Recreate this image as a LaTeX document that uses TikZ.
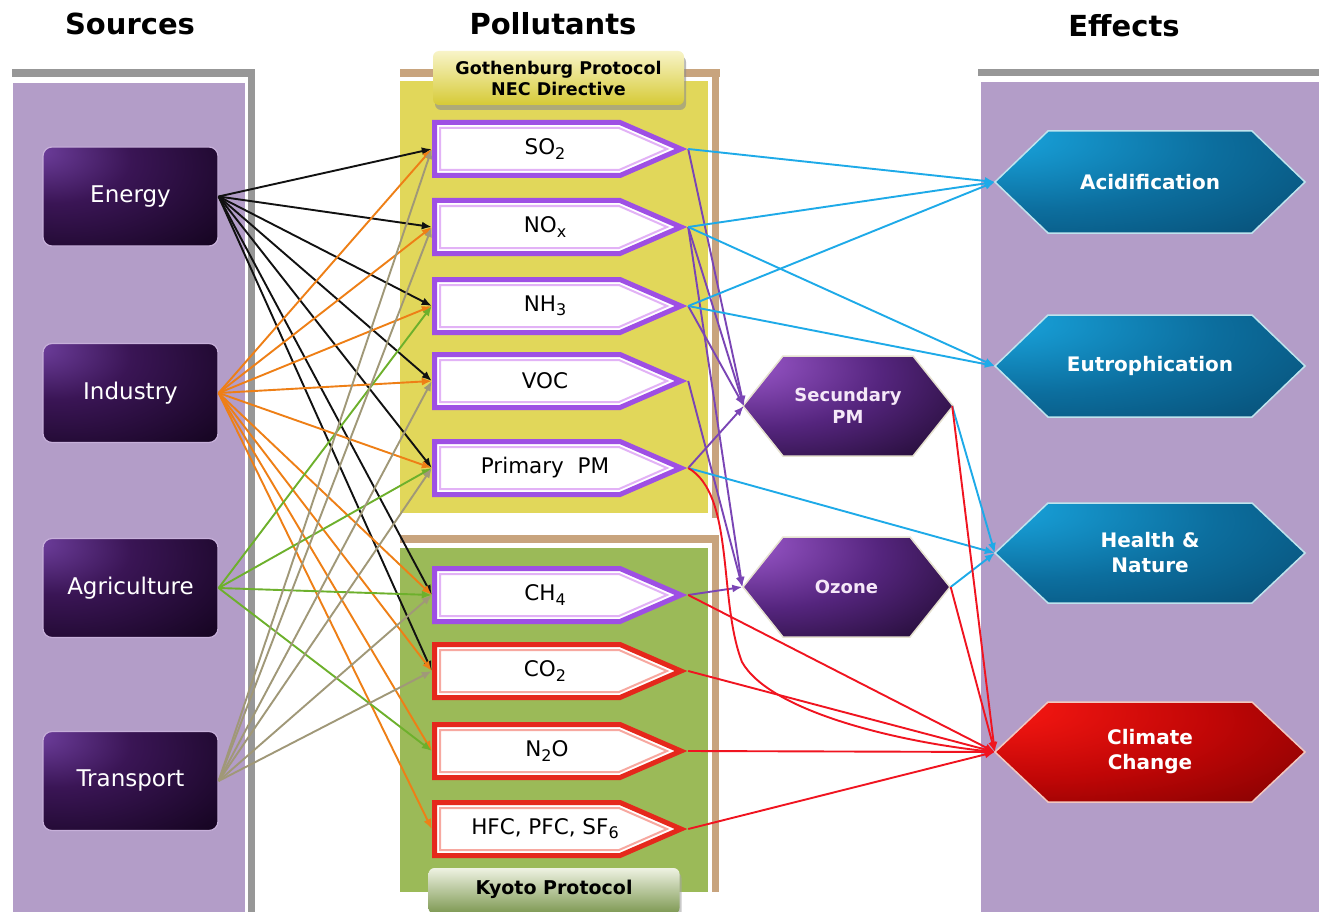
\documentclass[tikz,border=0pt]{standalone}
\usepackage{fontspec}
\setmainfont{DejaVu Sans}
\usetikzlibrary{arrows.meta,shadows}
\definecolor{pgray}{HTML}{979797}
\definecolor{ppurple}{HTML}{B39DC8}
\definecolor{ptan}{HTML}{C8A47E}
\definecolor{pyellow}{HTML}{E1D75A}
\definecolor{pgreen}{HTML}{9BBA58}
\definecolor{polpurple}{HTML}{9E4FE4}
\definecolor{pollav}{HTML}{E2B2F6}
\definecolor{polred}{HTML}{E5281C}
\definecolor{polpink}{HTML}{F7A8A0}
\definecolor{cEnergy}{HTML}{111111}
\definecolor{cIndustry}{HTML}{EE7F16}
\definecolor{cAgri}{HTML}{6DB02C}
\definecolor{cTrans}{HTML}{A09878}
\definecolor{cPurple}{HTML}{7A45B5}
\definecolor{cCyan}{HTML}{1EAAE8}
\definecolor{cRed}{HTML}{F01420}
\definecolor{srcA}{HTML}{7040A0}
\definecolor{srcB}{HTML}{3A1555}
\definecolor{srcC}{HTML}{12031C}
\definecolor{srcedge}{HTML}{C7B0DA}
\definecolor{bluA}{HTML}{1AAAE4}
\definecolor{bluB}{HTML}{0C6E9E}
\definecolor{bluC}{HTML}{064468}
\definecolor{bluedge}{HTML}{BFE4EE}
\definecolor{redA}{HTML}{FF1A14}
\definecolor{redB}{HTML}{C00606}
\definecolor{redC}{HTML}{6E0000}
\definecolor{rededge}{HTML}{F2C8C0}
\definecolor{purA}{HTML}{A35ED4}
\definecolor{purB}{HTML}{55257E}
\definecolor{purC}{HTML}{14051F}
\definecolor{puredge}{HTML}{E6E2D0}
\definecolor{gothA}{HTML}{F8F4C8}
\definecolor{gothB}{HTML}{D6CA36}
\definecolor{kyoA}{HTML}{EEF2E2}
\definecolor{kyoB}{HTML}{7C9750}
\pgfdeclareradialshading{srcshade}{\pgfpoint{-28bp}{24bp}}{color(0bp)=(srcA); color(22bp)=(srcB); color(55bp)=(srcC); color(100bp)=(srcC)}
\pgfdeclareradialshading{blueshade}{\pgfpoint{-28bp}{24bp}}{color(0bp)=(bluA); color(30bp)=(bluB); color(60bp)=(bluC); color(100bp)=(bluC)}
\pgfdeclareradialshading{redshade}{\pgfpoint{-28bp}{24bp}}{color(0bp)=(redA); color(30bp)=(redB); color(60bp)=(redC); color(100bp)=(redC)}
\pgfdeclareradialshading{purshade}{\pgfpoint{-28bp}{24bp}}{color(0bp)=(purA); color(28bp)=(purB); color(58bp)=(purC); color(100bp)=(purC)}
\newcommand\lowsub[1]{\raisebox{-0.35ex}{\fontsize{16}{16}\selectfont #1}}
% pentagon: #1 cy, #2 outer colour, #3 inner colour
\newcommand\PentShape[3]{%
  \filldraw[line width=5pt, draw=#2, fill=white, line join=miter] (434.5,#1-26.5) -- (620,#1-26.5) -- (681,#1) -- (620,#1+26.5) -- (434.5,#1+26.5) -- cycle;
  \draw[line width=2pt, draw=#3, line join=miter] (440,#1-21) -- (619,#1-21) -- (667,#1) -- (619,#1+21) -- (440,#1+21) -- cycle;}
% hexagon: #1 x left tip, #2 x right tip, #3 cy, #4 half height, #5 tip depth, #6 options
\newcommand\HexShape[6]{%
  \path[shade, line width=1.5pt, #6] (#1,#3) -- (#1+#5,#3-#4) -- (#2-#5,#3-#4) -- (#2,#3) -- (#2-#5,#3+#4) -- (#1+#5,#3+#4) -- cycle;}
\begin{document}
\begin{tikzpicture}[x=1pt,y=-1pt,
  title/.style={font=\bfseries\fontsize{29}{32}\selectfont, inner sep=0pt},
  src/.style={rectangle, rounded corners=9pt, minimum width=175pt, minimum height=99pt, shade, shading=srcshade, draw=srcedge, line width=1.2pt, text=white, font=\fontsize{23}{26}\selectfont},
  pol/.style={rectangle, minimum width=256pt, minimum height=58pt, inner sep=0pt, font=\fontsize{21.5}{24}\selectfont},
  eff/.style={rectangle, minimum width=310pt, minimum height=102pt, inner sep=0pt, text=white, align=center, font=\bfseries\fontsize{20}{25}\selectfont},
  mid/.style={rectangle, minimum width=208pt, minimum height=100pt, inner sep=0pt, text={rgb,255:red,245;green,232;blue,248}, align=center, font=\bfseries\fontsize{18}{22}\selectfont},
  proto/.style={rectangle, rounded corners=6pt, minimum width=251pt, inner sep=0pt, align=center},
  con/.style={line width=1.9pt, -{Latex[length=10pt,width=8pt]}}
]
\useasboundingbox (0,0) rectangle (1319,912);
\fill[white] (0,0) rectangle (1319,912);
% ---- panels ----
\fill[pgray] (12,69) rectangle (255,77);
\fill[pgray] (248,69) rectangle (255,912);
\fill[ppurple] (13,83) rectangle (245,912);
\fill[pgray] (978,69) rectangle (1319,76);
\fill[ppurple] (981,82) rectangle (1319,912);
\fill[ptan] (400,69) rectangle (720,77);
\fill[ptan] (712,69) rectangle (719,518);
\fill[pyellow] (400,81) rectangle (708,513);
\fill[ptan] (400,535) rectangle (719,543);
\fill[ptan] (712,535) rectangle (719,892);
\fill[pgreen] (400,548) rectangle (708,892);
% ---- titles ----
\node[title] (tsrc) at (130,24) {Sources};
\node[title] (tpol) at (553,24) {Pollutants};
\node[title] (teff) at (1124,26) {Effects};
% ---- protocol labels ----
\node[proto, minimum height=54pt, top color=gothA, bottom color=gothB, font=\bfseries\fontsize{17.5}{21}\selectfont,
  drop shadow={shadow xshift=2pt, shadow yshift=-5pt, fill=black!45, opacity=0.6}] (goth) at (558.5,78) {Gothenburg Protocol\\NEC Directive};
\node[proto, minimum height=46pt, top color=kyoA, bottom color=kyoB, font=\bfseries\fontsize{19}{22}\selectfont,
  drop shadow={shadow xshift=2pt, shadow yshift=-4pt, fill=black!35, opacity=0.6}] (kyoto) at (554,891) {\raisebox{7pt}{Kyoto Protocol}};
% ---- pollutant shapes ----
\PentShape{149}{polpurple}{pollav}
\PentShape{227}{polpurple}{pollav}
\PentShape{306}{polpurple}{pollav}
\PentShape{381}{polpurple}{pollav}
\PentShape{468}{polpurple}{pollav}
\PentShape{595}{polpurple}{pollav}
\PentShape{671}{polred}{polpink}
\PentShape{751}{polred}{polpink}
\PentShape{829}{polred}{polpink}
\node[pol] (so2) at (560,149) {\hspace*{-30pt}SO\lowsub{2}};
\node[pol] (nox) at (560,227) {\hspace*{-30pt}NO\lowsub{x}};
\node[pol] (nh3) at (560,306) {\hspace*{-30pt}NH\lowsub{3}};
\node[pol] (voc) at (560,381) {\hspace*{-30pt}VOC};
\node[pol] (ppm) at (560,468) {\hspace*{-30pt}Primary\ \ PM};
\node[pol] (ch4) at (560,595) {\hspace*{-30pt}CH\lowsub{4}};
\node[pol] (co2) at (560,671) {\hspace*{-30pt}CO\lowsub{2}};
\node[pol] (n2o) at (560,751) {\hspace*{-26pt}N\lowsub{2}O};
\node[pol] (hfc) at (560,829) {\hspace*{-30pt}HFC, PFC, SF\lowsub{6}};
% ---- sources ----
\node[src] (energy) at (130.5,196.5) {Energy};
\node[src] (industry) at (130.5,393) {Industry};
\node[src] (agri) at (130.5,588) {Agriculture};
\node[src] (transport) at (130.5,781) {Transport};
% ---- secondary ----
\HexShape{743}{953}{406}{50}{40}{shading=purshade, draw=puredge}
\HexShape{743}{950}{587}{50}{40}{shading=purshade, draw=puredge}
\node[mid] (secpm) at (848,406) {Secundary\\PM};
\node[mid] (ozone) at (846.5,587) {Ozone};
% ---- effects ----
\HexShape{995}{1305}{182}{51}{53}{shading=blueshade, draw=bluedge}
\HexShape{995}{1305}{366}{51}{53}{shading=blueshade, draw=bluedge}
\HexShape{995}{1305}{553}{50}{53}{shading=blueshade, draw=bluedge}
\HexShape{995}{1305}{752}{50}{53}{shading=redshade, draw=rededge}
\node[eff] (acid) at (1150,182) {Acidification};
\node[eff] (eutro) at (1150,366) {Eutrophication};
\node[eff] (health) at (1150,553) {Health \&\\Nature};
\node[eff] (climate) at (1150,752) {Climate\\Change};
% ---- source -> pollutant ----
\foreach \p in {so2,nox,nh3,voc,ppm,ch4,co2}
  \draw[con, cEnergy] (energy.east) -- (\p.west);
\foreach \p in {so2,nox,nh3,voc,ppm,ch4,co2,n2o,hfc}
  \draw[con, cIndustry] (industry.east) -- (\p.west);
\foreach \p in {nh3,ppm,ch4,n2o}
  \draw[con, cAgri] (agri.east) -- (\p.west);
\foreach \p in {so2,nox,voc,ppm,ch4,co2}
  \draw[con, cTrans] (transport.east) -- (\p.west);
% ---- pollutant -> secondary ----
\foreach \p in {so2,nox,nh3,ppm}
  \draw[con, cPurple] (\p.east) -- (secpm.west);
\foreach \p in {nox,voc,ch4}
  \draw[con, cPurple] (\p.east) -- (ozone.west);
% ---- -> effects (cyan) ----
\foreach \p in {so2,nox,nh3}
  \draw[con, cCyan] (\p.east) -- (acid.west);
\foreach \p in {nox,nh3}
  \draw[con, cCyan] (\p.east) -- (eutro.west);
\draw[con, cCyan] (ppm.east) -- (health.west);
\draw[con, cCyan] (secpm.east) -- (health.west);
\draw[con, cCyan] (ozone.east) -- (health.west);
% ---- -> climate (red) ----
\draw[con, cRed] (ppm.east) .. controls (735,495) and (718,600) .. (742,662) .. controls (770,712) and (900,742) .. (climate.west);
\foreach \p in {ch4,co2,n2o,hfc,secpm,ozone}
  \draw[con, cRed] (\p.east) -- (climate.west);
\end{tikzpicture}
\end{document}
